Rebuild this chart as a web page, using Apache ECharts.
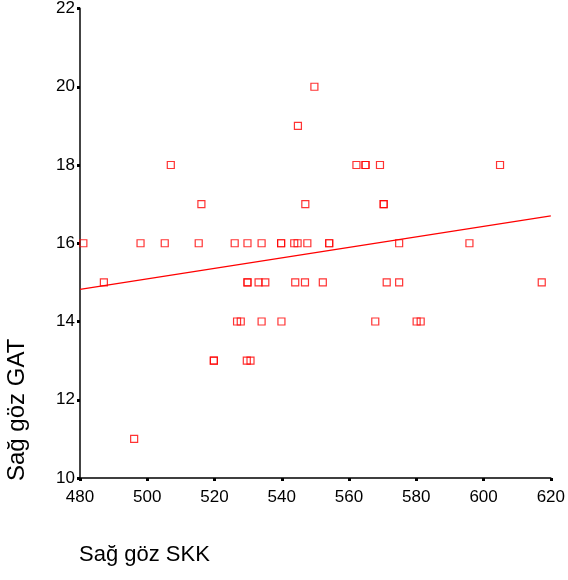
<!DOCTYPE html>
<html>
<head>
<meta charset="utf-8">
<script src="https://cdn.jsdelivr.net/npm/echarts@6/dist/echarts.min.js"></script>
<style>html,body{margin:0;padding:0;background:#fff}#c{width:568px;height:580px}</style>
</head>
<body>
<div id="c"></div>
<script>
// Sağ göz SKK (x) values and Sağ göz GAT (y) values
const skk = [
  481, 498, 505.2, 515.3, 526, 529.8, 534, 539.8, 539.8, 543.7, 544.7, 547.6, 554.1, 554.1, 574.9, 595.8,
  507, 562.2, 564.9, 564.9, 569.2, 604.9,
  516.1, 547, 570.3, 570.3,
  544.8,
  549.7,
  487.1, 529.8, 529.8, 533.1, 535.1, 544, 546.9, 552.2, 571.2, 574.9, 617.3,
  526.7, 527.8, 534, 539.9, 567.8, 580.1, 581.3,
  519.8, 519.8, 529.6, 530.7,
  496.1
];
const gat = [
  16, 16, 16, 16, 16, 16, 16, 16, 16, 16, 16, 16, 16, 16, 16, 16,
  18, 18, 18, 18, 18, 18,
  17, 17, 17, 17,
  19,
  20,
  15, 15, 15, 15, 15, 15, 15, 15, 15, 15, 15,
  14, 14, 14, 14, 14, 14, 14,
  13, 13, 13, 13,
  11
];
// Fit line end points
const fitX = [480, 620];
const fitY = [14.82, 16.70];
const xTicks = [480, 500, 520, 540, 560, 580, 600, 620];
const yTicks = [10, 12, 14, 16, 18, 20, 22];

const points = skk.map((v, i) => [v, gat[i]]);
const fit = fitX.map((v, i) => [v, fitY[i]]);

const chart = echarts.init(document.getElementById('c'), null, {renderer: 'canvas'});
const font = 'Liberation Sans, Arial, sans-serif';
chart.setOption({
  animation: false,
  grid: {left: 80, top: 7, right: 15, bottom: 102, containLabel: false},
  xAxis: {
    type: 'value', min: xTicks[0], max: xTicks[xTicks.length - 1], interval: 20,
    axisLine: {show: true, lineStyle: {color: '#000', width: 1.5}},
    axisTick: {show: true, length: 3, inside: false, lineStyle: {color: '#000', width: 3}},
    axisLabel: {color: '#000', fontSize: 17, fontFamily: font, margin: 11},
    splitLine: {show: false}
  },
  yAxis: {
    type: 'value', min: yTicks[0], max: yTicks[yTicks.length - 1], interval: 2,
    axisLine: {show: true, lineStyle: {color: '#444', width: 2}},
    axisTick: {show: true, length: 3, inside: false, lineStyle: {color: '#000', width: 3}},
    axisLabel: {color: '#000', fontSize: 17, fontFamily: font, margin: 5},
    splitLine: {show: false}
  },
  graphic: [
    {type: 'text', left: 79, top: 544, style: {text: 'Sağ göz SKK', fontSize: 22, fontFamily: font, fill: '#000'}},
    {type: 'text', x: 5, y: 481, rotation: Math.PI / 2, style: {text: 'Sağ göz GAT', fontSize: 24, fontFamily: font, fill: '#000', textAlign: 'left', textVerticalAlign: 'top'}}
  ],
  series: [
    {
      type: 'scatter', data: points, symbol: 'rect', symbolSize: 7,
      itemStyle: {color: 'rgba(255,255,255,0)', borderColor: '#ff0000', borderWidth: 1.2}
    },
    {
      type: 'line', data: fit, showSymbol: false, symbol: 'none',
      lineStyle: {color: '#ff0000', width: 1.2}
    }
  ]
});
</script>
</body>
</html>
